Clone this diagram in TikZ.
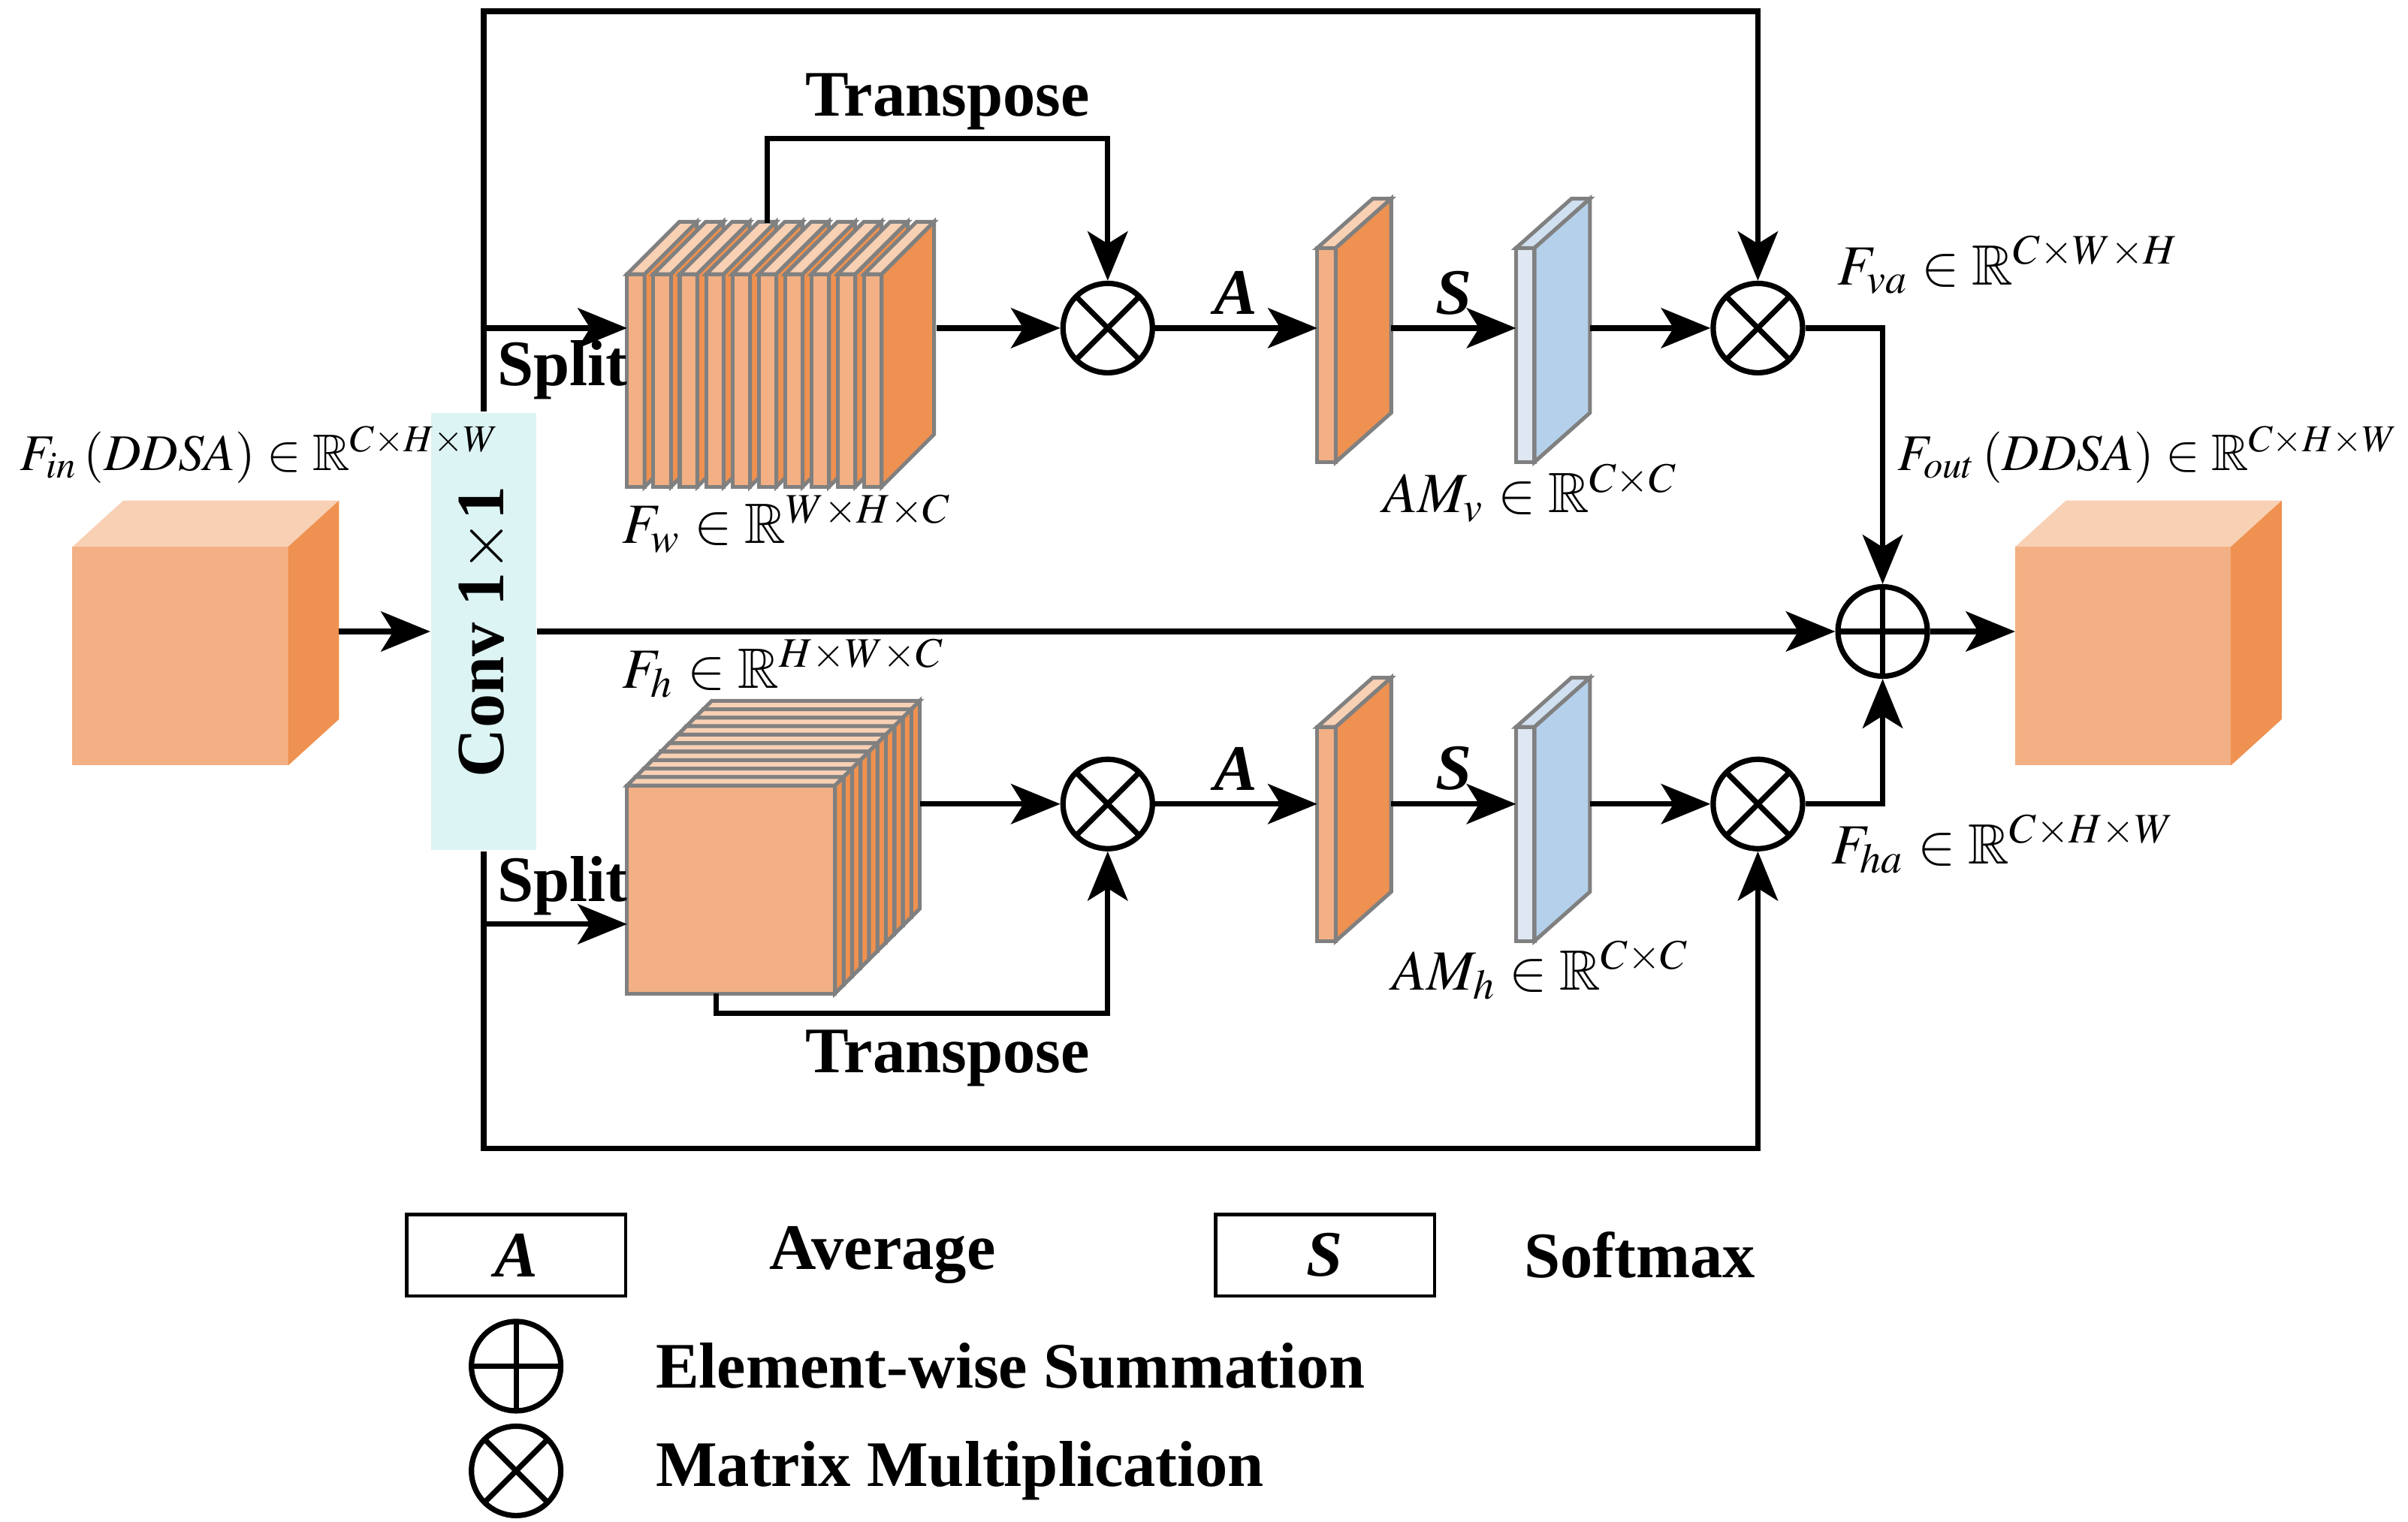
\documentclass[tikz,border=0pt]{standalone}
\usepackage{amsmath,amssymb}
\usepackage{mathptmx}
\usepackage{fontspec}
\setmainfont{Liberation Serif}
\usetikzlibrary{arrows.meta,positioning,calc}
\definecolor{cubefront}{HTML}{F2B084}
\definecolor{cubetop}{HTML}{F8D0B4}
\definecolor{cubeside}{HTML}{EF9150}
\definecolor{bluefront}{HTML}{DEE7F2}
\definecolor{blueside}{HTML}{B4D0EA}
\definecolor{bluetop}{HTML}{D0E0F0}
\definecolor{convfill}{HTML}{DDF4F4}
\tikzset{
  arr/.style={-{Stealth[length=3.2mm,width=2.6mm,inset=0.8mm]}, line width=1pt},
  slice/.style={draw=gray, line width=0.7pt},
  op/.style={circle, draw, line width=1pt, minimum size=5.8mm, inner sep=0pt},
  mul/.style={op, path picture={
      \draw[line width=1pt] (path picture bounding box.north west) -- (path picture bounding box.south east)
        (path picture bounding box.north east) -- (path picture bounding box.south west);}},
  add/.style={op, path picture={
      \draw[line width=1pt] (path picture bounding box.north) -- (path picture bounding box.south)
        (path picture bounding box.east) -- (path picture bounding box.west);}},
  lab/.style={font=\bfseries\fontsize{12}{14}\selectfont},
  mlab/.style={font=\fontsize{10.5}{12}\selectfont, inner sep=0pt},
  key/.style={draw, line width=0.6pt, minimum width=14.2mm, minimum height=5.3mm, font=\bfseries\itshape\fontsize{12}{14}\selectfont}
}
% cube with top and side face: x, y of front top-left
\newcommand\featcube[2]{%
  \fill[cubefront] (#1,#2) rectangle ++(140,142);
  \fill[cubetop] (#1,#2) -- ++(33,-30) -- ++(140,0) -- ++(-33,30) -- cycle;
  \fill[cubeside] ({#1+140},#2) -- ++(33,-30) -- ++(0,142) -- ++(-33,30) -- cycle;
}
% thin slab: x, y of front top-left, front / side / top colours
\newcommand\featslab[5]{%
  \filldraw[slice, fill=#3] (#1,#2) rectangle ++(12,139);
  \filldraw[slice, fill=#5] (#1,#2) -- ++(36,-32) -- ++(12,0) -- ++(-36,32) -- cycle;
  \filldraw[slice, fill=#4] ({#1+12},#2) -- ++(36,-32) -- ++(0,139) -- ++(-36,32) -- cycle;
}
\begin{document}
\begin{tikzpicture}[x=0.1mm, y=-0.1mm]
  \useasboundingbox (0,0) rectangle (1563,988);

  % input and output cubes
  \featcube{47}{355}
  \featcube{1308}{355}

  % stack of vertical slices (W)
  \foreach \i in {0,...,9}{
    \pgfmathsetmacro\sx{407+17.1*\i}
    \filldraw[slice, fill=cubefront] (\sx,178) rectangle ++(11.4,138);
    \filldraw[slice, fill=cubetop] (\sx,178) -- ++(34,-34) -- ++(11.4,0) -- ++(-34,34) -- cycle;
    \filldraw[slice, fill=cubeside] ({\sx+11.4},178) -- ++(34,-34) -- ++(0,138) -- ++(-34,34) -- cycle;
  }

  % stack of horizontal slices (H)
  \foreach \k in {9,...,0}{
    \pgfmathsetmacro\o{5.5*\k}
    \filldraw[slice, fill=cubefront] ({407+\o},{510-\o}) rectangle ++(135,135);
    \filldraw[slice, fill=cubetop] ({407+\o},{510-\o}) -- ++(5.5,-5.5) -- ++(135,0) -- ++(-5.5,5.5) -- cycle;
    \filldraw[slice, fill=cubeside] ({542+\o},{510-\o}) -- ++(5.5,-5.5) -- ++(0,135) -- ++(-5.5,5.5) -- cycle;
  }

  % attention slabs
  \featslab{855}{161}{cubefront}{cubeside}{cubetop}
  \featslab{984}{161}{bluefront}{blueside}{bluetop}
  \featslab{855}{472}{cubefront}{cubeside}{cubetop}
  \featslab{984}{472}{bluefront}{blueside}{bluetop}

  % operators
  \node[draw=none, fill=convfill, minimum width=6.8mm, minimum height=28.4mm] (conv) at (314,410) {};
  \node[rotate=90, lab, font=\bfseries\fontsize{12.5}{15}\selectfont] at (conv) {Conv 1$\times$1};
  \node[mul] (m1) at (719,213) {};
  \node[mul] (m2) at (719,522) {};
  \node[mul] (va) at (1141,213) {};
  \node[mul] (ha) at (1141,522) {};
  \node[add] (plus) at (1222,410) {};

  \coordinate (cin) at (220,410);
  \coordinate (cout) at (1308,410);
  \coordinate (wsrc) at (314,213);
  \coordinate (wdst) at (407,213);
  \coordinate (wout) at (608,213);
  \coordinate (wtop) at (498,145);
  \coordinate (hsrc) at (314,600);
  \coordinate (hdst) at (407,600);
  \coordinate (hout) at (597,522);
  \coordinate (hbot) at (465,645);
  \coordinate (a1in) at (855,213);
  \coordinate (a1out) at (903,213);
  \coordinate (s1in) at (984,213);
  \coordinate (s1out) at (1032,213);
  \coordinate (a2in) at (855,522);
  \coordinate (a2out) at (903,522);
  \coordinate (s2in) at (984,522);
  \coordinate (s2out) at (1032,522);

  % connectors
  \draw[arr] (cin) -- (conv.west);
  \draw[arr] (conv.east) -- (plus.west);
  \draw[arr] (plus.east) -- (cout);
  \draw[arr] (conv.north) -- ++(0,-260) -| (va.north);
  \draw[arr] (conv.south) -- ++(0,193) -| (ha.south);
  \draw[arr] (wsrc) -- (wdst);
  \draw[arr] (hsrc) -- (hdst);
  \draw[arr] (wout) -- (m1.west);
  \draw[arr] (hout) -- (m2.west);
  \draw[arr] (wtop) -- ++(0,-55) -| (m1.north);
  \draw[arr] (hbot) -- ++(0,13) -| (m2.south);
  \draw[arr] (m1.east) -- node[above, lab, inner sep=2pt] {\textit{A}} (a1in);
  \draw[arr] (m2.east) -- node[above, lab, inner sep=2pt] {\textit{A}} (a2in);
  \draw[arr] (a1out) -- node[above, lab, inner sep=2pt] {\textit{S}} (s1in);
  \draw[arr] (a2out) -- node[above, lab, inner sep=2pt] {\textit{S}} (s2in);
  \draw[arr] (s1out) -- (va.west);
  \draw[arr] (s2out) -- (ha.west);
  \draw[arr] (va.east) -| (plus.north);
  \draw[arr] (ha.east) -| (plus.south);

  % labels
  \node[lab] at (615,66) {Transpose};
  \node[lab] at (615,687) {Transpose};
  \node[lab] at (365,240) {Split};
  \node[lab] at (365,575) {Split};
  \node[mlab, anchor=west] at (403,340) {$F_w \in \mathbb{R}^{W\times H\times C}$};
  \node[mlab, anchor=west] at (403,434) {$F_h \in \mathbb{R}^{H\times W\times C}$};
  \node[mlab, anchor=west] at (897,320) {$AM_v \in \mathbb{R}^{C\times C}$};
  \node[mlab, anchor=west] at (903,630) {$AM_h \in \mathbb{R}^{C\times C}$};
  \node[mlab, anchor=west] at (1192,172) {$F_{va} \in \mathbb{R}^{C\times W\times H}$};
  \node[mlab, anchor=west] at (1188,548) {$F_{ha} \in \mathbb{R}^{C\times H\times W}$};
  \node[mlab, anchor=west, font=\fontsize{9.5}{11}\selectfont] at (12,295) {$F_{in}\left(DDSA\right) \in \mathbb{R}^{C\times H\times W}$};
  \node[mlab, anchor=east, font=\fontsize{9.5}{11}\selectfont] at (1558,295) {$F_{out}\left(DDSA\right) \in \mathbb{R}^{C\times H\times W}$};

  % legend
  \node[key] (keya) at (335,815) {A};
  \node[lab, right=8mm of keya] {Average};
  \node[key] (keys) at (860,815) {S};
  \node[lab, right=4.5mm of keys] {Softmax};
  \node[add] (keyadd) at (335,887) {};
  \node[lab, anchor=west, inner sep=0pt] at (425,887) {Element-wise Summation};
  \node[mul] (keymul) at (335,955) {};
  \node[lab, anchor=west, inner sep=0pt] at (425,955) {Matrix Multiplication};
\end{tikzpicture}
\end{document}
